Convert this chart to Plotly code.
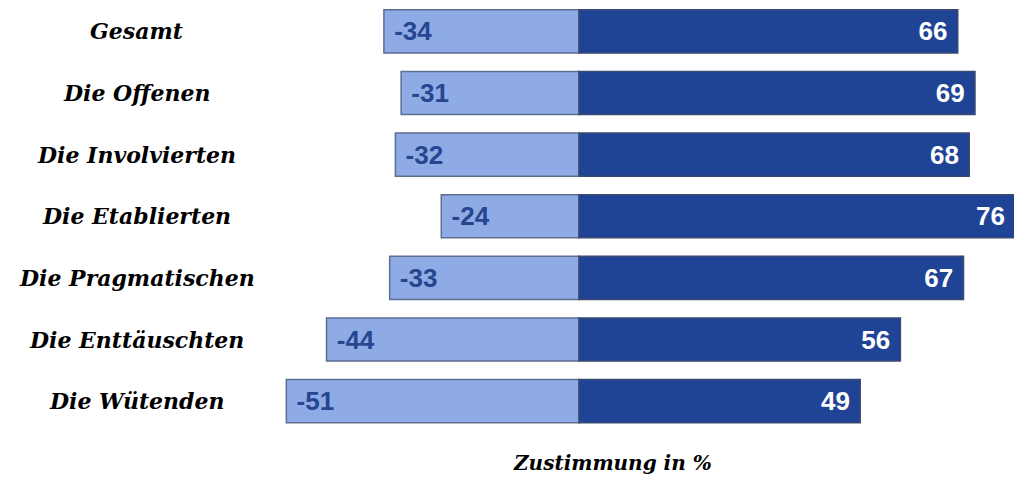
import plotly.graph_objects as go

# Segments and their approval split (percent)
gruppen = ["Gesamt", "Die Offenen", "Die Involvierten", "Die Etablierten",
           "Die Pragmatischen", "Die Enttäuschten", "Die Wütenden"]
ablehnung = [-34, -31, -32, -24, -33, -44, -51]
zustimmung = [66, 69, 68, 76, 67, 56, 49]

HELL = "#8EABE6"
DUNKEL = "#1F4496"
RAND = "#5E6E90"
ZAHL_FONT = "Liberation Sans Narrow, Arial Narrow, Liberation Sans, Arial, sans-serif"
SCHRIFT = "DejaVu Serif, serif"

fig = go.Figure()

fig.add_trace(go.Bar(
    y=gruppen, x=ablehnung, orientation="h",
    marker=dict(color=HELL, line=dict(color=RAND, width=1.5)),
    text=[f" {v}" for v in ablehnung],
    textposition="inside", insidetextanchor="end",
    insidetextfont=dict(family=ZAHL_FONT, size=26, color="#27468F", weight="bold"),
    hoverinfo="skip",
))

fig.add_trace(go.Bar(
    y=gruppen, x=zustimmung, orientation="h",
    marker=dict(color=DUNKEL, line=dict(color="#3A4A70", width=1.5)),
    text=[f"{v} " for v in zustimmung],
    textposition="inside", insidetextanchor="end",
    insidetextfont=dict(family=ZAHL_FONT, size=26, color="white", weight="bold"),
    hoverinfo="skip",
))

# Group names on the left, drawn as free text
for i, g in enumerate(gruppen):
    fig.add_annotation(
        x=0.135, xref="paper", y=g, yref="y",
        text=g, showarrow=False, xanchor="center", yanchor="middle",
        font=dict(family=SCHRIFT, size=22, color="black",
                  style="italic", weight="bold"),
    )

fig.add_annotation(
    x=0.604, xref="paper", y=0.035, yref="paper",
    text="Zustimmung in %", showarrow=False, xanchor="center", yanchor="middle",
    font=dict(family=SCHRIFT, size=20, color="black", style="italic", weight="bold"),
)

fig.update_layout(
    width=1014, height=480,
    margin=dict(l=0, r=0, t=0, b=0),
    paper_bgcolor="white", plot_bgcolor="white",
    barmode="relative", bargap=0.3,
    showlegend=False,
    uniformtext=dict(mode=False),
    xaxis=dict(range=[-100.9, 75.8], visible=False, fixedrange=True),
    yaxis=dict(range=[7.28, -0.51], visible=False, fixedrange=True,
               categoryorder="array", categoryarray=gruppen),
)

fig.write_html("out.html")
